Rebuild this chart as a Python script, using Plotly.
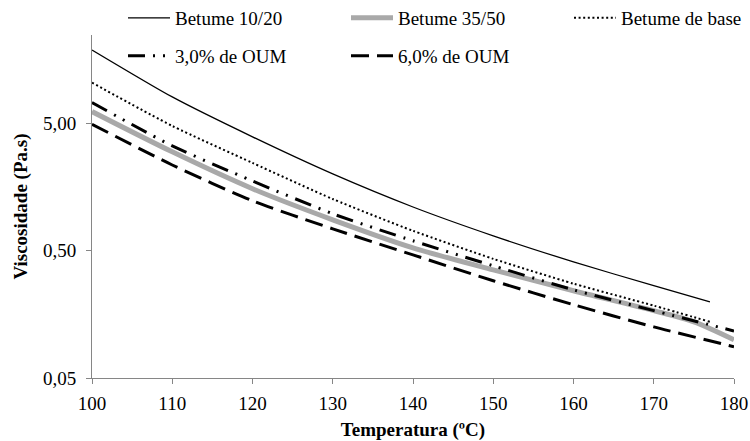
import plotly.graph_objects as go

# ---- data ----
temp_a = [100, 110, 120, 130, 140, 150, 160, 170, 177]
betume_1020 = [18.8, 8.04, 3.91, 2.00, 1.10, 0.653, 0.408, 0.265, 0.198]
betume_base = [10.4, 4.76, 2.44, 1.27, 0.715, 0.431, 0.275, 0.185, 0.138]

temp_b = [100, 110, 120, 130, 140, 150, 160, 170, 175, 180]
betume_3550 = [6.17, 2.98, 1.53, 0.873, 0.526, 0.353, 0.242, 0.169, 0.138, 0.0998]

temp_c = [100, 110, 120, 130, 140, 150, 160, 170, 180]
oum_3 = [7.26, 3.32, 1.76, 0.973, 0.597, 0.380, 0.246, 0.169, 0.117]
oum_6 = [4.91, 2.35, 1.23, 0.741, 0.463, 0.290, 0.188, 0.126, 0.0880]

y_tickvals = [0.05, 0.5, 5]
y_ticktext = ["0,05", "0,50", "5,00"]
x_tickvals = [100, 110, 120, 130, 140, 150, 160, 170, 180]

FONT = "Liberation Serif"
AXIS_COLOR = "#868686"

fig = go.Figure()
fig.add_trace(go.Scatter(x=temp_a, y=betume_1020, name="Betume 10/20", mode="lines",
                         line=dict(color="black", width=1.3, shape="spline", smoothing=0.6),
                         legend="legend"))
fig.add_trace(go.Scatter(x=temp_b, y=betume_3550, name="Betume 35/50", mode="lines",
                         line=dict(color="#a9a9a9", width=5, shape="spline", smoothing=0.8),
                         legend="legend"))
fig.add_trace(go.Scatter(x=temp_a, y=betume_base, name="Betume de base", mode="lines",
                         line=dict(color="black", width=2, dash="2px,2.6px", shape="spline", smoothing=0.6),
                         legend="legend", legendwidth=130))
fig.add_trace(go.Scatter(x=temp_c, y=oum_3, name="3,0% de OUM", mode="lines",
                         line=dict(color="black", width=3, dash="17px,8px,2px,8px,2px,8px",
                                   shape="spline", smoothing=0.6),
                         legend="legend2"))
fig.add_trace(go.Scatter(x=temp_c, y=oum_6, name="6,0% de OUM", mode="lines",
                         line=dict(color="black", width=3, dash="18px,8px", shape="spline", smoothing=0.6),
                         legend="legend2", legendwidth=130))

legend_common = dict(orientation="h", xref="container", yref="container",
                     xanchor="left", yanchor="middle",
                     font=dict(family=FONT, size=19, color="black"),
                     bgcolor="rgba(0,0,0,0)", itemwidth=42,
                     entrywidth=166, entrywidthmode="pixels",
                     itemclick=False, itemdoubleclick=False)

fig.update_layout(
    width=750, height=441,
    margin=dict(l=92, r=16, t=35, b=63, autoexpand=False),
    paper_bgcolor="white", plot_bgcolor="white",
    font=dict(family=FONT, size=19, color="black"),
    showlegend=True,
    legend=dict(x=123 / 750, y=1 - 18 / 441, **legend_common),
    legend2=dict(x=123 / 750, y=1 - 56 / 441, **legend_common),
    xaxis=dict(range=[100, 180], tickvals=x_tickvals, showgrid=False, zeroline=False,
               showline=True, linecolor=AXIS_COLOR, linewidth=1,
               ticks="outside", ticklen=5, tickcolor=AXIS_COLOR, ticklabelstandoff=3,
               tickfont=dict(family=FONT, size=19, color="black"),
               title=dict(text="<b>Temperatura (ºC)</b>", font=dict(family=FONT, size=19), standoff=10)),
    yaxis=dict(type="log", range=[-1.30103, 1.3915], tickvals=y_tickvals, ticktext=y_ticktext,
               showgrid=False, zeroline=False, showline=True, linecolor=AXIS_COLOR, linewidth=1,
               ticks="outside", ticklen=5, tickcolor=AXIS_COLOR, ticklabelstandoff=6,
               tickfont=dict(family=FONT, size=19, color="black"),
               title=dict(text="<b>Viscosidade (Pa.s)</b>", font=dict(family=FONT, size=19), standoff=10)),
)

fig.write_html("out.html", config={"displayModeBar": False},
               post_script="document.body.style.margin='0';")
